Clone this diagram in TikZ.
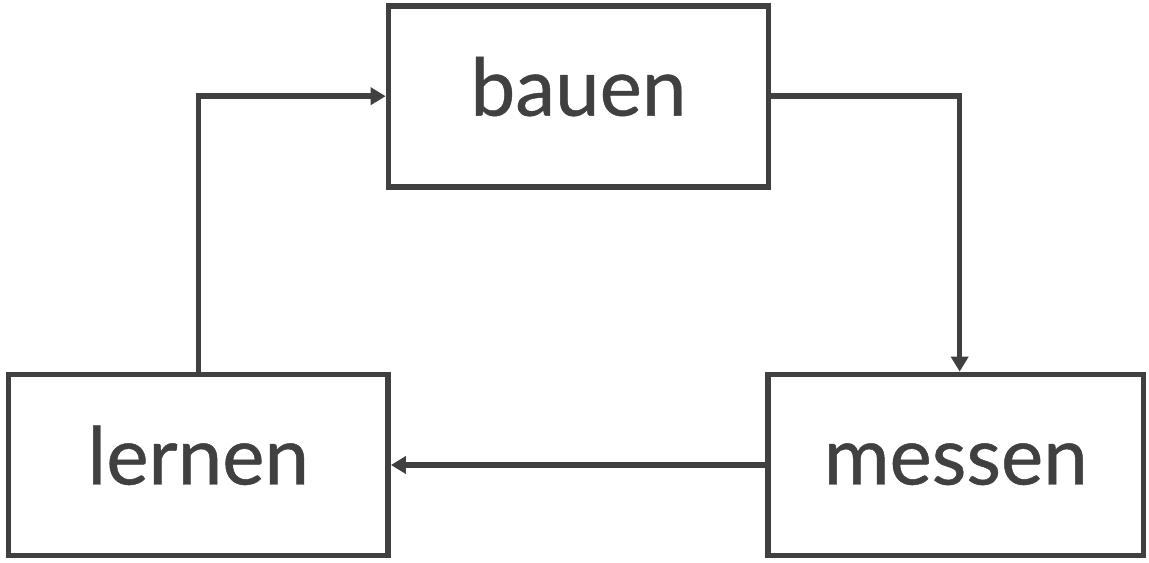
\documentclass[tikz,border=0pt]{standalone}
\usepackage{fontspec}
\setmainfont{Lato}
\newfontfamily\stagefont[FakeBold=0.6]{Lato}
\usepackage{xcolor}
\usetikzlibrary{arrows.meta,positioning}
\definecolor{ink}{RGB}{64,64,64}

\tikzset{
  stagebox/.style={draw=ink, line width=3.3pt, inner sep=0pt,
    minimum width=7.6cm, minimum height=3.62cm,
    text height=1.14cm, text depth=0.36cm,
    text=ink, font=\stagefont\fontsize{45.5}{50}\selectfont},
  flow/.style={draw=ink, line width=3.1pt,
    -{Triangle[length=0.3cm, width=0.34cm]}}
}

\begin{document}
\begin{tikzpicture}[x=0.02cm, y=-0.02cm]
\useasboundingbox (0,0) rectangle (1149,563);
% --- the three stages ---
\node[stagebox] (bauen)  at (578.5,96.2) {bauen};
\node[stagebox, minimum width=7.51cm] (messen) at (955.8,465) {messen};
\node[stagebox, minimum width=7.59cm] (lernen) at (198.3,465) {lernen};
% --- cycle ---
\draw[flow] (bauen.east) -| ([xshift=2.2]messen.north);
\draw[flow] (messen.west) -- (lernen.east);
\draw[flow] (lernen.north) |- (bauen.west);
\end{tikzpicture}
\end{document}
